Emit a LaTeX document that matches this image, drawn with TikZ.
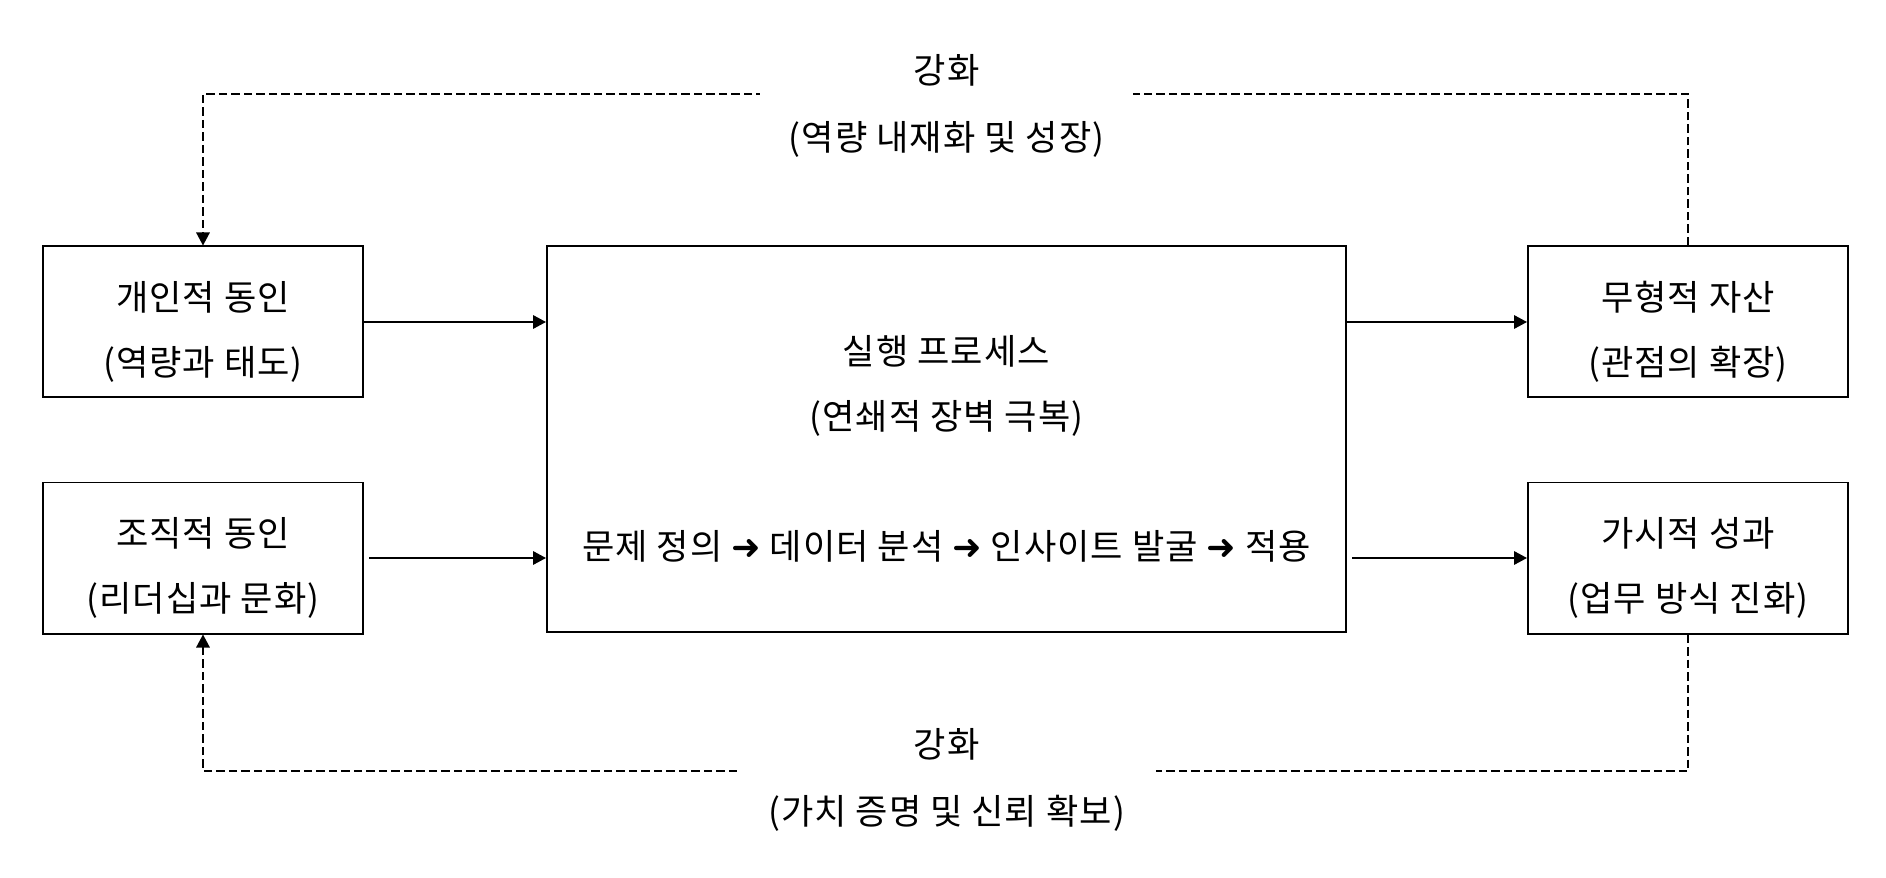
\documentclass[tikz,border=0pt]{standalone}
\usepackage{fontspec}
\setmainfont[LetterSpace=3]{Noto Sans CJK KR}
\newfontfamily\arrfont{DejaVu Sans}
\usetikzlibrary{arrows.meta,positioning}

\newcommand{\nx}{{\arrfont ➜}}
\newcommand{\hi}{\rule{0pt}{28pt}}

\tikzset{
  box/.style={draw,line width=0.04cm,minimum width=6.4cm,minimum height=3.02cm,align=center,
    inner ysep=2pt,font=\fontsize{20pt}{37pt}\selectfont},
  flow/.style={line width=0.035cm,-{Triangle[length=0.26cm,width=0.27cm]}},
  loop/.style={line width=0.03cm,dash pattern=on 0.17cm off 0.08cm},
  lbl/.style={fill=white,align=center,inner sep=0pt,font=\fontsize{20pt}{38pt}\selectfont}
}

\begin{document}
\begin{tikzpicture}
\useasboundingbox (0,0) rectangle (37.72,-17.56);

% drivers
\node[box] (ind) at (4.06,-6.44) {\hi 개인적 동인\\(역량과 태도)};
\node[box,below=1.66cm of ind] (org) {\hi 조직적 동인\\(리더십과 문화)};

% process
\node[box,minimum width=15.98cm,minimum height=7.7cm,anchor=north west] (proc)
  at (ind.north east -| 10.92,0) {\hi 실행 프로세스\\(연쇄적 장벽 극복)\\[37pt]문제 정의 \nx{} 데이터 분석 \nx{} 인사이트 발굴 \nx{} 적용};

% results
\node[box,right=3.6cm of proc.north east,anchor=north west] (asset) {\hi 무형적 자산\\(관점의 확장)};
\node[box,below=1.66cm of asset] (perf) {\hi 가시적 성과\\(업무 방식 진화)};

\draw[flow] (ind.east) -- (ind.east -| proc.west);
\draw[flow,shorten <=0.1cm] (org.east) -- (org.east -| proc.west);
\draw[flow] (proc.east |- asset) -- (asset.west);
\draw[flow,shorten <=0.1cm] (proc.east |- perf) -- (perf.west);

% feedback loops
\coordinate (tophi) at (0,-1.88);
\coordinate (botlo) at (0,-15.42);
\draw[loop,-{Triangle[length=0.26cm,width=0.27cm]}] (asset.north) |- (ind.north |- tophi) -- (ind.north);
\draw[loop,-{Triangle[length=0.26cm,width=0.27cm]}] (perf.south) |- (org.south |- botlo) -- (org.south);
\node[lbl,minimum width=7.46cm,minimum height=2.4cm] (toplbl) at ([yshift=-0.24cm]proc |- tophi) {강화\\(역량 내재화 및 성장)};
\node[lbl,minimum width=8.38cm,minimum height=2.4cm] (botlbl) at ([yshift=-0.18cm]proc |- botlo) {강화\\(가치 증명 및 신뢰 확보)};

\end{tikzpicture}
\end{document}
